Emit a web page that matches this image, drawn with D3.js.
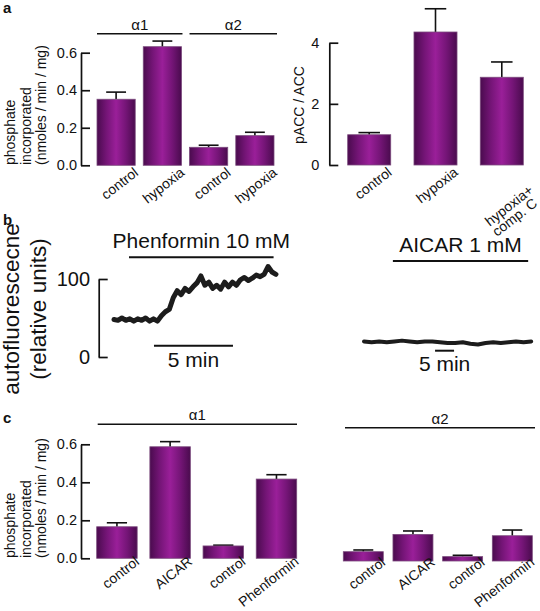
<!DOCTYPE html>
<html><head><meta charset="utf-8">
<script src="https://cdn.jsdelivr.net/npm/d3@7"></script>
<style>
body{margin:0;background:#fff}
svg{display:block}
text{font-family:"Liberation Sans",Arial,sans-serif;fill:#111}
</style>
</head><body>
<svg id="chart" width="540" height="611"></svg>
<script>
// ---------- DATA ----------
// Panel a (left): AMPK activity
const aCats = ["control", "hypoxia", "control", "hypoxia"];
const aGroups = ["α1", "α2"];
const aMeans = [0.352, 0.632, 0.096, 0.158];
const aErrs = [0.038, 0.030, 0.011, 0.018];
const aTicks = [0, 0.2, 0.4, 0.6];
// Panel a (right): pACC / ACC
const accCats = [["control"], ["hypoxia"], ["hypoxia+", "comp. C"]];
const accMeans = [0.99, 4.35, 2.87];
const accErrs = [0.07, 0.76, 0.50];
const accTicks = [0, 2, 4];
// Panel b: autofluorescence traces (time in min, relative units)
const phenTime = [0,0.25,0.5,0.75,1,1.25,1.5,1.75,2,2.25,2.5,2.75,3,3.25,3.5,3.75,4,4.25,4.5,4.75,5,5.25,5.5,5.75,6,6.25,6.5,6.75,7,7.25,7.5,7.75,8,8.25,8.5,8.75,9,9.25,9.5,9.75,10,10.25];
const phenVals = [48,47,50,47,49,46,49,47,50,46,49,46,53,58,61,76,85,80,88,84,90,95,104,92,96,88,92,87,96,90,96,92,99,102,98,101,105,103,106,116,109,106];
const phenDrug = [0.95, 10.1];
const phenScaleBar = [2.53, 7.53];
const aicarTime = [0,2,4,6,8,10,12,14,16,18,20,22,24,26,28,30,32,34,36,38,40,42,44];
const aicarVals = [20,19,20,19,20,21,20,19,20,20,19,18,18,19,17,16,18,19,18,19,20,19,20];
const aicarDrug = [7.6, 43.2];
const aicarScaleBar = [18.7, 23.7];
const bTicks = [0, 100];
// Panel c
const cCats = ["control", "AICAR", "control", "Phenformin"];
const cA1Means = [0.166, 0.587, 0.065, 0.417];
const cA1Errs = [0.021, 0.027, 0.004, 0.023];
const cA2Means = [0.049, 0.140, 0.023, 0.133];
const cA2Errs = [0.009, 0.018, 0.007, 0.030];
const cTicks = [0, 0.2, 0.4, 0.6];

// ---------- SETUP ----------
const svg = d3.select("#chart");
svg.append("rect").attr("width", 540).attr("height", 611).attr("fill", "#fff");
const defs = svg.append("defs");
const grad = defs.append("linearGradient").attr("id", "barGrad").attr("x1", 0).attr("x2", 1).attr("y1", 0).attr("y2", 0);
[[0, "#4a0b4e"], [0.25, "#751577"], [0.5, "#9a1f99"], [0.75, "#751577"], [1, "#4a0b4e"]].forEach(([o, c]) =>
  grad.append("stop").attr("offset", o).attr("stop-color", c));

const INK = "#111";

function panelLabel(t, x, y) {
  svg.append("text").attr("x", x).attr("y", y).attr("font-weight", "bold").attr("font-size", 15).text(t);
}

function yAxis(scale, x, ticks, fmt, fs, pad) {
  const g = svg.append("g").attr("transform", `translate(${x},0)`)
    .call(d3.axisLeft(scale).tickValues(ticks).tickFormat(fmt).tickSizeInner(-9).tickSizeOuter(0).tickPadding(pad));
  g.selectAll("path,line").attr("stroke", INK).attr("stroke-width", 1.7);
  g.selectAll("text").attr("font-size", fs).attr("fill", INK).style("font-family", '"Liberation Sans",Arial,sans-serif');
  return g;
}

function bars(x, y, means, errs, capFrac) {
  const g = svg.append("g");
  const y0 = y(0);
  means.forEach((m, i) => {
    const bx = x(i), bw = x.bandwidth();
    const top = y(m), et = y(m + errs[i]);
    g.append("line").attr("x1", bx + bw / 2).attr("x2", bx + bw / 2).attr("y1", top).attr("y2", et)
      .attr("stroke", INK).attr("stroke-width", 1.6);
    const cw = bw * capFrac;
    g.append("line").attr("x1", bx + bw / 2 - cw / 2).attr("x2", bx + bw / 2 + cw / 2).attr("y1", et).attr("y2", et)
      .attr("stroke", INK).attr("stroke-width", 1.6);
    g.append("rect").attr("x", bx).attr("y", top).attr("width", bw).attr("height", y0 - top)
      .attr("fill", "url(#barGrad)").attr("stroke", "#7b4a7d").attr("stroke-width", 0.8);
  });
}

function catLabels(x, yBase, cats, fs, rot, dxOff, dyOff) {
  cats.forEach((c, i) => {
    const lines = Array.isArray(c) ? c : [c];
    const multi = lines.length > 1;
    const ax = x(i) + x.bandwidth() + dxOff + (multi ? 9 : 0), ay = yBase + dyOff + (multi ? 18 : 0);
    const t = svg.append("text").attr("transform", `translate(${ax},${ay}) rotate(${rot})`)
      .attr("text-anchor", "end").attr("font-size", fs);
    lines.forEach((l, k) => {
      t.append("tspan").attr("x", k === 0 ? 0 : -5).attr("dy", k === 0 ? 0 : "0.9em").text(l);
    });
  });
}

function groupLine(x1, x2, y, label, fs) {
  svg.append("line").attr("x1", x1).attr("x2", x2).attr("y1", y).attr("y2", y).attr("stroke", INK).attr("stroke-width", 1.6);
  svg.append("text").attr("x", (x1 + x2) / 2).attr("y", y - 4).attr("text-anchor", "middle").attr("font-size", fs).text(label);
}

function yLabel3(xs, yBottom, lines, fs) {
  lines.forEach((l, k) => {
    svg.append("text").attr("transform", `translate(${xs[k]},${yBottom}) rotate(-90)`)
      .attr("text-anchor", "start").attr("font-size", fs).text(l);
  });
}

// ---------- PANEL a ----------
panelLabel("a", 3, 13);
const yA = d3.scaleLinear().domain([0, 0.6]).range([165.3, 52.7]);
const xA = d3.scaleBand().domain(d3.range(aCats.length)).range([97, 274]).paddingInner(0.174).paddingOuter(0);
yAxis(yA, 81, aTicks, d3.format(".1f"), 14.5, 4);
bars(xA, yA, aMeans, aErrs, 0.52);
catLabels(xA, yA(0), aCats, 14, -38, 4, 9);
groupLine(xA(0), xA(1) + xA.bandwidth() + 1, 33.7, aGroups[0], 15);
groupLine(xA(2), xA(3) + xA.bandwidth() + 3, 33.7, aGroups[1], 15);
yLabel3([15, 31, 46], 165, ["phosphate", "incorporated", "(nmoles / min / mg)"], 14);

const yR = d3.scaleLinear().domain([0, 4]).range([165, 42.7]);
const xR = d3.scaleBand().domain(d3.range(accCats.length)).range([347.7, 523.3]).paddingInner(0.351).paddingOuter(0);
yAxis(yR, 329.3, accTicks, d3.format("d"), 14.5, 10);
bars(xR, yR, accMeans, accErrs, 0.5);
catLabels(xR, yR(0), accCats, 14, -38, 2, 9);
svg.append("text").attr("transform", "translate(304,105) rotate(-90)").attr("text-anchor", "middle").attr("font-size", 14).text("pACC / ACC");

// ---------- PANEL b ----------
panelLabel("b", 3, 225);
const yB = d3.scaleLinear().domain([0, 100]).range([357, 279]);
yAxis(yB, 98.7, bTicks, d3.format("d"), 20, 8.7);
svg.append("text").attr("transform", "translate(18.5,309) rotate(-90)").attr("text-anchor", "middle").attr("font-size", 22.5).text("autofluorescecne");
svg.append("text").attr("transform", "translate(45.5,309) rotate(-90)").attr("text-anchor", "middle").attr("font-size", 22.5).text("(relative units)");

const xPh = d3.scaleLinear().domain([0, 10]).range([114, 272]);
const line = (xs) => d3.line().x(d => xs(d[0])).y(d => yB(d[1])).curve(d3.curveLinear);
svg.append("path").datum(phenTime.map((t, i) => [t, phenVals[i]])).attr("d", line(xPh))
  .attr("fill", "none").attr("stroke", "#1c1c1c").attr("stroke-width", 5).attr("stroke-linejoin", "round").attr("stroke-linecap", "round");
svg.append("line").attr("x1", xPh(phenDrug[0])).attr("x2", xPh(phenDrug[1])).attr("y1", 257.3).attr("y2", 257.3).attr("stroke", INK).attr("stroke-width", 2);
svg.append("text").attr("x", (xPh(phenDrug[0]) + xPh(phenDrug[1])) / 2).attr("y", 248).attr("text-anchor", "middle").attr("font-size", 21).text("Phenformin 10 mM");
svg.append("line").attr("x1", xPh(phenScaleBar[0])).attr("x2", xPh(phenScaleBar[1])).attr("y1", 345.7).attr("y2", 345.7).attr("stroke", INK).attr("stroke-width", 2);
svg.append("text").attr("x", (xPh(phenScaleBar[0]) + xPh(phenScaleBar[1])) / 2).attr("y", 367).attr("text-anchor", "middle").attr("font-size", 21).text("5 min");

const xAi = d3.scaleLinear().domain([0, 10]).range([364, 402]);
svg.append("path").datum(aicarTime.map((t, i) => [t, aicarVals[i]])).attr("d", line(xAi))
  .attr("fill", "none").attr("stroke", "#1c1c1c").attr("stroke-width", 4).attr("stroke-linejoin", "round").attr("stroke-linecap", "round");
svg.append("line").attr("x1", xAi(aicarDrug[0])).attr("x2", xAi(aicarDrug[1])).attr("y1", 261).attr("y2", 261).attr("stroke", INK).attr("stroke-width", 2);
svg.append("text").attr("x", (xAi(aicarDrug[0]) + xAi(aicarDrug[1])) / 2).attr("y", 252).attr("text-anchor", "middle").attr("font-size", 21).text("AICAR 1 mM");
svg.append("line").attr("x1", xAi(aicarScaleBar[0])).attr("x2", xAi(aicarScaleBar[1])).attr("y1", 350.7).attr("y2", 350.7).attr("stroke", INK).attr("stroke-width", 2);
svg.append("text").attr("x", (xAi(aicarScaleBar[0]) + xAi(aicarScaleBar[1])) / 2).attr("y", 371).attr("text-anchor", "middle").attr("font-size", 21).text("5 min");

// ---------- PANEL c ----------
panelLabel("c", 3, 423);
const yC1 = d3.scaleLinear().domain([0, 0.6]).range([558.3, 444.3]);
const xC1 = d3.scaleBand().domain(d3.range(cCats.length)).range([96.7, 296.7]).paddingInner(0.239).paddingOuter(0);
yAxis(yC1, 81, cTicks, d3.format(".1f"), 14.5, 4);
bars(xC1, yC1, cA1Means, cA1Errs, 0.5);
catLabels(xC1, yC1(0), cCats, 14, -38, 3, 5);
groupLine(97.7, 297, 424.3, "α1", 15);
yLabel3([15, 31, 46], 558, ["phosphate", "incorporated", "(nmoles / min / mg)"], 14);

const yC2 = d3.scaleLinear().domain([0, 0.6]).range([561, 447]);
const xC2 = d3.scaleBand().domain(d3.range(cCats.length)).range([343.3, 532.3]).paddingInner(0.195).paddingOuter(0);
bars(xC2, yC2, cA2Means, cA2Errs, 0.5);
catLabels(xC2, yC2(0), cCats, 14, -38, 3, 3);
groupLine(345, 535, 427.7, "α2", 15);
</script>
</body></html>
